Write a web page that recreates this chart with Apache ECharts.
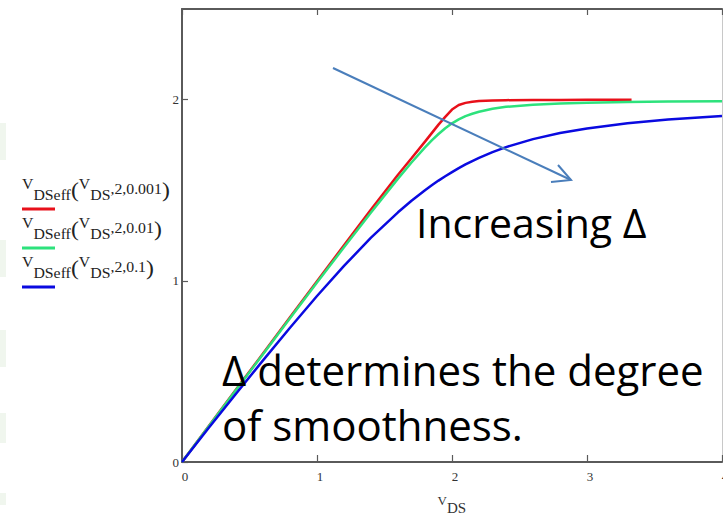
<!DOCTYPE html>
<html>
<head>
<meta charset="utf-8">
<script src="https://cdn.jsdelivr.net/npm/echarts@6/dist/echarts.min.js"></script>
<style>
  html, body { margin: 0; padding: 0; background: #ffffff; }
  #chart { width: 723px; height: 514px; }
</style>
</head>
<body>
<div id="chart"></div>
<script>
// Sample points along V_DS for each smoothing parameter Δ (V_DSsat = 2)
const vdsRed = [0, 0.2, 0.4, 0.6, 0.8, 1.0, 1.2, 1.4, 1.6, 1.7, 1.8, 1.85, 1.9, 1.95, 2.0, 2.05, 2.1, 2.15, 2.2, 2.3, 2.4, 2.6, 2.8, 3.0, 3.33];
const vdsGrid = [0, 0.2, 0.4, 0.6, 0.8, 1.0, 1.2, 1.4, 1.6, 1.7, 1.8, 1.85, 1.9, 1.95, 2.0, 2.05, 2.1, 2.15, 2.2, 2.3, 2.4, 2.6, 2.8, 3.0, 3.3, 3.6, 4.0];

// V_DSeff(V_DS, 2, 0.001)
const effDelta0001 = [0, 0.2, 0.4, 0.599, 0.799, 0.998, 1.196, 1.393, 1.585, 1.676, 1.768, 1.815, 1.862, 1.905, 1.945, 1.97, 1.982, 1.988, 1.992, 1.995, 1.997, 1.998, 1.998, 1.999, 1.999];
// V_DSeff(V_DS, 2, 0.01)
const effDelta001 = [0, 0.199, 0.397, 0.595, 0.793, 0.99, 1.185, 1.377, 1.564, 1.653, 1.736, 1.775, 1.81, 1.842, 1.869, 1.891, 1.909, 1.922, 1.933, 1.949, 1.96, 1.972, 1.979, 1.983, 1.987, 1.989, 1.991];
// V_DSeff(V_DS, 2, 0.1)
const effDelta01 = [0, 0.19, 0.377, 0.561, 0.741, 0.916, 1.082, 1.238, 1.378, 1.442, 1.5, 1.527, 1.553, 1.577, 1.6, 1.622, 1.642, 1.661, 1.678, 1.71, 1.738, 1.782, 1.816, 1.841, 1.869, 1.89, 1.909];

const xTicks = [0, 1, 2, 3, 4];
const yTicks = [0, 1, 2];

const seriesDefs = [
  { name: 'V_DSeff(V_DS,2,0.001)', x: vdsRed, y: effDelta0001, color: '#e8101a', delta: '0.001' },
  { name: 'V_DSeff(V_DS,2,0.01)', x: vdsGrid, y: effDelta001, color: '#2de27c', delta: '0.01' },
  { name: 'V_DSeff(V_DS,2,0.1)', x: vdsGrid, y: effDelta01, color: '#0a0ae0', delta: '0.1' }
];

const serif = '"Liberation Serif", "DejaVu Serif", serif';
const sans = '"Open Sans", "Noto Sans", sans-serif';
const axisColor = '#5a5a5a';

const chart = echarts.init(document.getElementById('chart'), null, { renderer: 'svg' });

const mathRich = {
  v: { fontFamily: serif, fontSize: 14, color: '#222', lineHeight: 14, verticalAlign: 'top' },
  s: { fontFamily: serif, fontSize: 14, color: '#222', lineHeight: 14, verticalAlign: 'bottom' },
  n: { fontFamily: serif, fontSize: 14, color: '#222', lineHeight: 18, verticalAlign: 'middle' },
  p: { fontFamily: serif, fontSize: 21, color: '#222', lineHeight: 25, verticalAlign: 'middle' }
};

// Legend rows: formula text with a colour sample underneath
const legendRowsTop = [177, 216, 255];
const legendGraphics = [];
seriesDefs.forEach(function (s, i) {
  const top = legendRowsTop[i];
  legendGraphics.push({
    type: 'text',
    x: 22,
    y: top,
    scaleX: 1.13,
    style: {
      text: '{v|V}{s|DSeff}{p|(}{v|V}{s|DS}{n|,2,' + s.delta + '}{p|)}',
      rich: mathRich,
      fill: '#222',
      verticalAlign: 'top'
    }
  });
  legendGraphics.push({
    type: 'line',
    shape: { x1: 22, y1: top + 32, x2: 55, y2: top + 32 },
    style: { stroke: s.color, lineWidth: 3 }
  });
});

// Faint slide texture along the left edge
const edgeBands = [[123, 37], [240, 37], [330, 37], [413, 30], [493, 12]];
const edgeGraphics = edgeBands.map(function (b) {
  return { type: 'rect', shape: { x: 0, y: b[0], width: 6, height: b[1] }, style: { fill: '#f0f6ee' }, z: -1 };
});

const option = {
  backgroundColor: '#ffffff',
  animation: false,
  grid: { left: 182, top: 9, right: 1, bottom: 52, containLabel: false, outerBoundsMode: 'none' },
  xAxis: [
    {
      type: 'value', min: 0, max: 4, interval: 1, position: 'bottom',
      axisLine: { show: true, onZero: false, lineStyle: { color: axisColor, width: 2 } },
      axisTick: { show: true, inside: true, length: 7, lineStyle: { color: axisColor, width: 1.2 } },
      axisLabel: { color: '#333', fontFamily: serif, fontSize: 13, margin: 8, padding: [0, 0, 0, 6],
        customValues: xTicks, hideOverlap: false },
      splitLine: { show: false },
      name: '{v|V}{s|DS}{h| }',
      nameLocation: 'middle',
      nameGap: 32,
      nameTextStyle: { rich: {
        v: { fontFamily: serif, fontSize: 13, color: '#333', lineHeight: 13, verticalAlign: 'top' },
        s: { fontFamily: serif, fontSize: 15, color: '#333', lineHeight: 15, verticalAlign: 'bottom' },
        h: { fontSize: 1, lineHeight: 21 }
      } }
    },
    {
      type: 'value', min: 0, max: 4, interval: 1, position: 'top',
      axisLine: { show: true, onZero: false, lineStyle: { color: axisColor, width: 2 } },
      axisTick: { show: true, inside: true, length: 6, lineStyle: { color: axisColor, width: 1.2 } },
      axisLabel: { show: false },
      splitLine: { show: false }
    }
  ],
  yAxis: [
    {
      type: 'value', min: 0, max: 2.5, position: 'left',
      axisLine: { show: true, onZero: false, lineStyle: { color: axisColor, width: 2 } },
      axisTick: { show: true, inside: true, length: 6, lineStyle: { color: axisColor, width: 1.2 },
        customValues: yTicks },
      axisLabel: { color: '#333', fontFamily: serif, fontSize: 13, margin: 3, customValues: yTicks },
      splitLine: { show: false }
    },
    {
      type: 'value', min: 0, max: 2.5, position: 'right',
      axisLine: { show: true, onZero: false, lineStyle: { color: '#c8c8c8', width: 1 } },
      axisTick: { show: false },
      axisLabel: { show: false },
      splitLine: { show: false }
    }
  ],
  series: seriesDefs.map(function (s) {
    return {
      name: s.name,
      type: 'line',
      data: s.x.map(function (v, i) { return [v, s.y[i]]; }),
      showSymbol: false,
      smooth: false,
      lineStyle: { color: s.color, width: 2.5 },
      itemStyle: { color: s.color },
      z: 2
    };
  }),
  graphic: edgeGraphics.concat(legendGraphics).concat([
    // Annotation arrow
    {
      type: 'line',
      shape: { x1: 333, y1: 68, x2: 571, y2: 180 },
      style: { stroke: '#4a7ebb', lineWidth: 2 },
      z: 10
    },
    {
      type: 'polyline',
      shape: { points: [[558, 165], [571, 180], [551, 182]] },
      style: { stroke: '#4a7ebb', lineWidth: 2, fill: null },
      z: 10
    },
    {
      type: 'text',
      x: 416, y: 222,
      style: { text: 'Increasing Δ', font: '41px ' + sans, fill: '#000', verticalAlign: 'middle' },
      z: 10
    },
    {
      type: 'text',
      x: 222, y: 369,
      style: { text: 'Δ determines the degree', font: '42px ' + sans, fill: '#000', verticalAlign: 'middle' },
      z: 10
    },
    {
      type: 'text',
      x: 222, y: 424,
      style: { text: 'of smoothness.', font: '42px ' + sans, fill: '#000', verticalAlign: 'middle' },
      z: 10
    }
  ])
};

chart.setOption(option);
</script>
</body>
</html>
